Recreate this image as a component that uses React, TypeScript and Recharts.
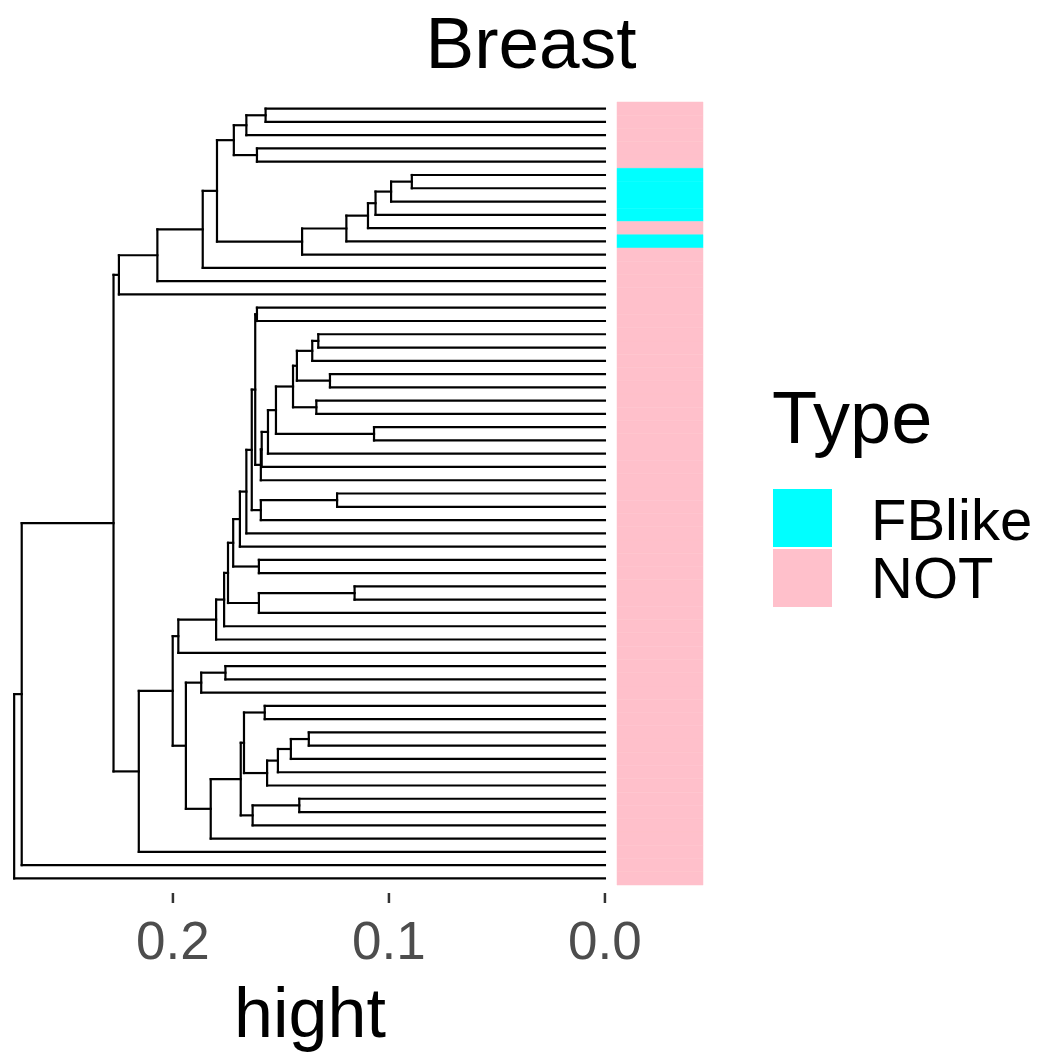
import React from "react";
import { ComposedChart, XAxis, YAxis, ReferenceLine, ReferenceArea, Scatter } from "recharts";

// Leaf types (top to bottom)
const leafTypes: string[] = [
  "NOT","NOT","NOT","NOT","NOT","FBlike","FBlike","FBlike","FBlike","NOT",
  "FBlike","NOT","NOT","NOT","NOT","NOT","NOT","NOT","NOT","NOT",
  "NOT","NOT","NOT","NOT","NOT","NOT","NOT","NOT","NOT","NOT",
  "NOT","NOT","NOT","NOT","NOT","NOT","NOT","NOT","NOT","NOT",
  "NOT","NOT","NOT","NOT","NOT","NOT","NOT","NOT","NOT","NOT",
  "NOT","NOT","NOT","NOT","NOT","NOT","NOT","NOT","NOT",
];
// Merges (hclust style: negative = leaf -(index+1), positive = merge id, 1-based)
const mergeLeft: number[] = [-1,1,-4,2,-6,5,6,7,8,9,4,11,12,13,-16,-18,16,-21,17,-23,19,-25,21,23,24,25,15,-30,28,27,30,31,-35,32,-37,35,34,37,38,39,-43,41,-46,-48,44,45,46,43,-53,49,48,51,42,40,54,14,56,57];
const mergeRight: number[] = [-2,-3,-5,3,-7,-8,-9,-10,-11,-12,10,-13,-14,-15,-17,-19,-20,-22,18,-24,20,-26,22,-27,-28,-29,26,-31,-32,29,-33,-34,-36,33,-38,-39,36,-40,-41,-42,-44,-45,-47,-49,-50,-51,-52,47,-54,-55,50,-56,52,53,-57,55,-58,-59];
const mergeHeight: number[] = [
  0.1571,0.1660,0.1611,0.1718,0.0894,0.0990,0.1062,0.1097,0.1197,0.1402,0.1796,0.1862,0.2072,0.2250,
  0.1611,0.1327,0.1355,0.1273,0.1426,0.1336,0.1444,0.1069,0.1523,0.1560,0.1589,0.1593,0.1619,0.1240,
  0.1593,0.1635,0.1660,0.1690,0.1602,0.1721,0.1159,0.1602,0.1745,0.1763,0.1800,0.1975,0.1757,0.1869,
  0.1575,0.1371,0.1454,0.1514,0.1564,0.1671,0.1415,0.1631,0.1686,0.1825,0.1940,0.2001,0.2158,0.2275,
  0.2700,0.2735,
];
const xTicks: number[] = [0, 0.1, 0.2];

const colors: Record<string, string> = { FBlike: "#00FFFF", NOT: "#FFC0CB" };
const FONT = "Arial, 'Liberation Sans', sans-serif";

type Seg = { x1: number; y1: number; x2: number; y2: number };

function buildSegments(): Seg[] {
  const ny: number[] = [];
  const nh: number[] = [];
  const pos = (c: number) => (c < 0 ? { y: -c - 1, h: 0 } : { y: ny[c - 1], h: nh[c - 1] });
  const segs: Seg[] = [];
  mergeHeight.forEach((h, k) => {
    const a = pos(mergeLeft[k]);
    const b = pos(mergeRight[k]);
    segs.push({ x1: h, y1: a.y, x2: h, y2: b.y });
    segs.push({ x1: h, y1: a.y, x2: a.h, y2: a.y });
    segs.push({ x1: h, y1: b.y, x2: b.h, y2: b.y });
    ny.push((a.y + b.y) / 2);
    nh.push(h);
  });
  return segs;
}

const leafData = leafTypes.map((t, i) => ({ h: 0, i }));

export default function App() {
  const segs = buildSegments();
  return (
    <div style={{ position: "absolute", left: 0, top: 0, width: 1062, height: 1062, background: "#fff" }}>
      <ComposedChart width={1062} height={1062} margin={{ top: 102, right: 359, bottom: 0, left: 12 }} data={leafData}>
        <XAxis
          type="number" dataKey="h" reversed domain={[-0.0454, 0.2745]} allowDataOverflow
          ticks={xTicks} tickFormatter={(v: number) => v.toFixed(1)}
          axisLine={false} tickSize={10} tickMargin={18} height={169}
          tick={{ fontSize: 53, fill: "#4D4D4D", fontFamily: FONT }}
          tickLine={{ stroke: "#333333", strokeWidth: 2.5 }}
        />
        <YAxis type="number" dataKey="i" hide reversed domain={[-0.5, 59.1]} allowDataOverflow />
        {leafTypes.map((t, i) => (
          <ReferenceArea key={"t" + i} x1={-0.0056} x2={-0.0454} y1={i - 0.5} y2={i + 0.5}
            fill={colors[t]} fillOpacity={1} stroke={colors[t]} strokeWidth={0.5} ifOverflow="visible" />
        ))}
        {segs.map((s, k) => (
          <ReferenceLine key={"s" + k} segment={[{ x: s.x1, y: s.y1 }, { x: s.x2, y: s.y2 }]}
            stroke="#000" strokeWidth={2.2} strokeLinecap="square" ifOverflow="visible" />
        ))}
        <Scatter dataKey="i" fill="none" isAnimationActive={false} shape={() => null} />
      </ComposedChart>
      <svg width={1062} height={1062} style={{ position: "absolute", left: 0, top: 0, pointerEvents: "none" }}>
        <text x={531} y={68} textAnchor="middle" fontSize={73} fontFamily={FONT} fill="#000">Breast</text>
        <text x={310} y={1037} textAnchor="middle" fontSize={70} fontFamily={FONT} fill="#000">hight</text>
        <text x={772} y={443} fontSize={74} fontFamily={FONT} fill="#000">Type</text>
        <rect x={773} y={489} width={59} height={58} fill={colors.FBlike} />
        <rect x={773} y={549} width={59} height={58} fill={colors.NOT} />
        <text x={871} y={540} fontSize={58} fontFamily={FONT} fill="#000">FBlike</text>
        <text x={871} y={598} fontSize={58} fontFamily={FONT} fill="#000">NOT</text>
      </svg>
    </div>
  );
}
